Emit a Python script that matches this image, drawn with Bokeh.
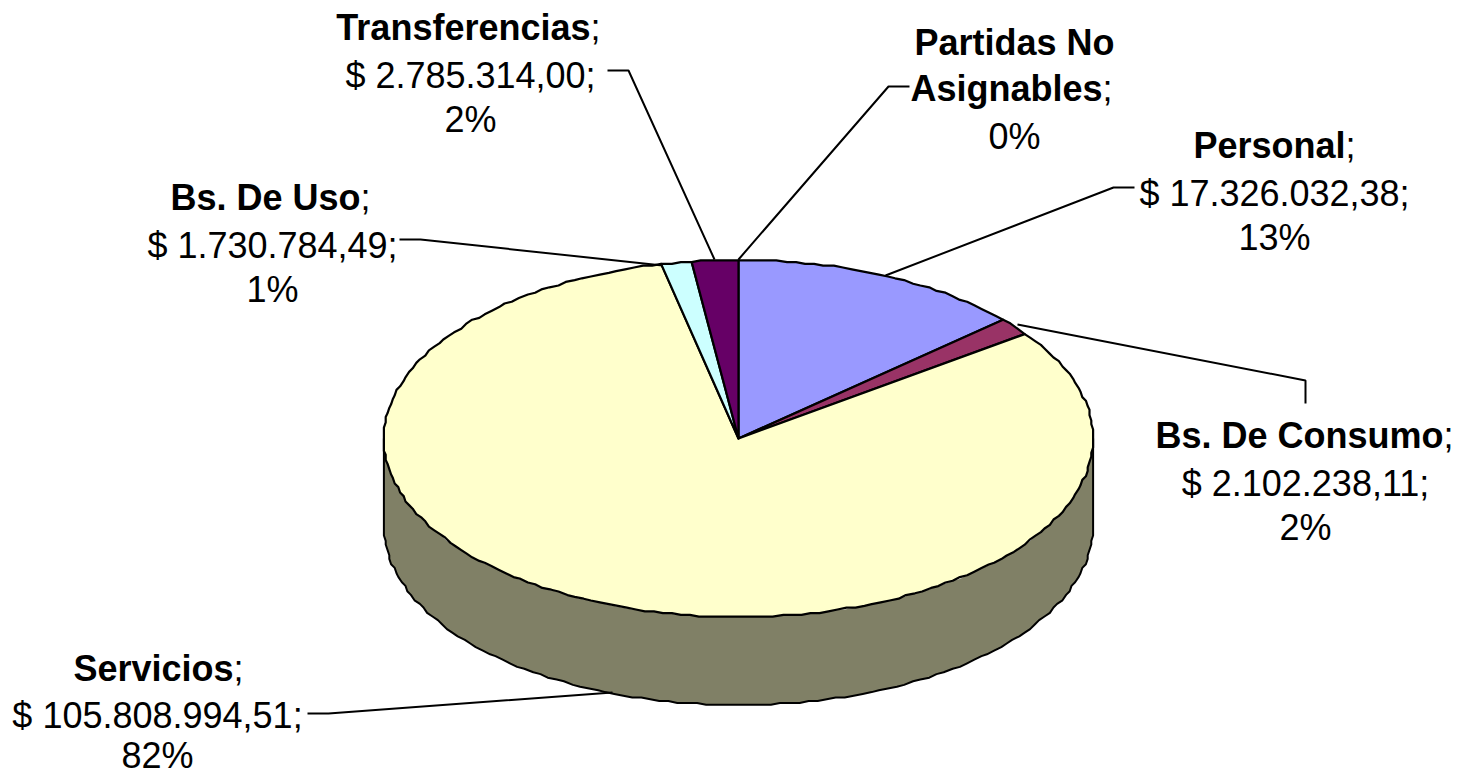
import numpy as np
from bokeh.plotting import figure
from bokeh.embed import file_html
from bokeh.resources import INLINE
from bokeh.core.properties import value

# --- data (clockwise from 12 o'clock) ---
categories = ["Personal", "Bs. De Consumo", "Servicios", "Bs. De Uso", "Transferencias", "Partidas No Asignables"]
amounts = [17326032.38, 2102238.11, 105808994.51, 1730784.49, 2785314.00, 0.0]
amount_labels = ["$ 17.326.032,38;", "$ 2.102.238,11;", "$ 105.808.994,51;", "$ 1.730.784,49;", "$ 2.785.314,00;", None]
percent_labels = ["13%", "2%", "82%", "1%", "2%", "0%"]
colors = ["#9999FF", "#993366", "#FFFFCC", "#CCFFFF", "#660066", "#FFFFFF"]
wall_color = "#808066"

# --- layout (page pixels) ---
CX, CY, RX, RY, DEPTH = 738.0, 438.0, 354.5, 178.5, 88.0
FONT = "Liberation Sans"
SIZE = "36px"
GRID = 1.8  # the reference outline is a slightly wobbly, pixel-snapped curve
STEP = 7.0  # px between outline samples
YOFF = -10  # text anchor offset from the wanted baseline

W, H = 1460, 776
p = figure(width=W, height=H, x_range=(0, W), y_range=(H, 0),
           output_backend="svg", toolbar_location=None, min_border=0,
           outline_line_color=None, background_fill_color="white", border_fill_color="white")
p.axis.visible = False
p.grid.visible = False


def ell(theta):
    dx = np.round(RX * np.sin(theta) / GRID) * GRID
    dy = np.round(RY * np.cos(theta) / GRID) * GRID
    return CX + dx, CY - dy


def arc(a, b):
    n = max(2, int(abs(b - a) * (RX + RY) / 2 / STEP) + 1)
    return ell(np.linspace(a, b, n))


# side wall: front half of the disc, with its outline only on sides and bottom
x, y = arc(np.pi / 2, 3 * np.pi / 2)
p.patch(np.r_[x, x[::-1]], np.r_[y + DEPTH, y[::-1]], fill_color=wall_color, line_color=None)
p.line(np.r_[x[0], x, x[-1]], np.r_[y[0], y + DEPTH, y[-1]], line_color="black", line_width=2,
       line_join="round")

# top slices
vals = np.array(amounts)
edges = np.r_[0, np.cumsum(vals)] / vals.sum() * 2 * np.pi
for i, c in enumerate(colors):
    if vals[i] <= 0:
        continue
    x, y = arc(edges[i], edges[i + 1])
    p.patch(np.r_[CX, x], np.r_[CY, y], fill_color=c, line_color="black", line_width=2.2,
            line_join="round")

# leader lines
leaders = [
    ([885, 1113, 1134], [275, 187, 187]),
    ([1017, 1305, 1305], [324, 380, 403]),
    ([612, 328, 307], [692, 713, 713]),
    ([662, 420, 399], [265, 239, 239]),
    ([714, 628, 607], [259, 70, 70]),
    ([738, 888, 909], [259, 86, 86]),
]
for lx, ly in leaders:
    p.line(lx, ly, line_color="black", line_width=2)


def txt(x, y, s, bold=False, align="center"):
    p.text([x], [y + YOFF], text=[s], text_font=value(FONT), text_font_size=SIZE,
           text_font_style="bold" if bold else "normal", text_align=align,
           text_baseline="alphabetic", text_color="black")


def name_line(x_join, y, name):
    txt(x_join, y, name, bold=True, align="right")
    txt(x_join, y, ";", align="left")


# label anchors: centre x, bold/semicolon junction x, baselines of the three lines
anchors = [
    (1274, 1345, (155, 203, 247)),
    (1305, 1443, (445, 493, 537)),
    (157, 233, (678, 725, 765)),
    (272, 360, (207, 255, 299)),
    (470, 590, (37, 85, 129)),
]
for i, (cx, xj, (b1, b2, b3)) in enumerate(anchors):
    name_line(xj, b1, categories[i])
    txt(cx, b2, amount_labels[i])
    txt(cx, b3, percent_labels[i])

# two-line name of the last category
txt(1014, 52, "Partidas No", bold=True)
name_line(1102, 98, "Asignables")
txt(1014, 146, percent_labels[5])

open("out.html", "w").write(file_html(p, INLINE))
